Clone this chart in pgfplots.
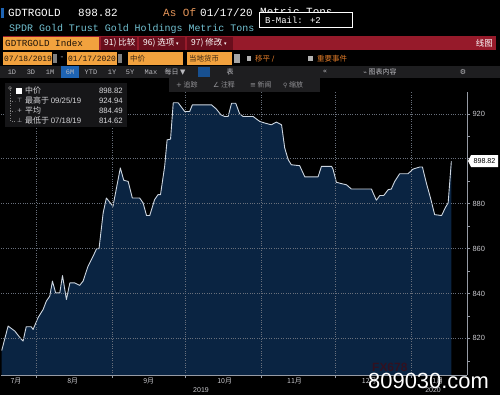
\documentclass[border=0pt]{standalone}
\usepackage{pgfplots}
\usepackage{pgfplotstable}
\pgfplotsset{compat=1.18}
\usepackage{fontspec}
\setmainfont{Liberation Sans}
\newfontfamily\cjk{Noto Sans CJK SC}
\newfontfamily\mono{Liberation Mono}
\newfontfamily\sym{DejaVu Sans}
\definecolor{navy}{RGB}{10,36,66}
\definecolor{lineclr}{RGB}{205,214,224}
\definecolor{gridclr}{RGB}{105,112,124}
\definecolor{axclr}{RGB}{150,155,165}
\definecolor{tickclr}{RGB}{200,200,205}
\definecolor{boxorange}{RGB}{242,162,62}
\definecolor{barred}{RGB}{150,26,42}
\definecolor{darkred}{RGB}{105,14,28}
\definecolor{asof}{RGB}{230,150,90}
\definecolor{teal}{RGB}{115,195,212}
\definecolor{txtorange}{RGB}{222,122,40}
\definecolor{hlblue}{RGB}{30,100,180}
\definecolor{rowgray}{RGB}{30,30,32}
\definecolor{legbg}{RGB}{22,22,24}
\definecolor{ltxt}{RGB}{215,215,218}
\definecolor{mtxt}{RGB}{185,185,190}

\pgfplotstableread{
day val
0 814.6
2.6 825.5
5.3 823.3
8 819.6
8.7 818.8
10 825.2
12 825.2
12.8 824.0
14.8 829.2
16.9 832.9
18.2 836.6
19.6 838.8
20.7 845.5
22 840.3
23.7 840.3
24.8 848.0
26.4 837.3
27.8 844.7
29.8 844.7
31.8 843.6
33.2 845.5
35.2 852.1
37.3 856.6
38.7 859.9
39.7 859.9
41.4 875.9
42.7 882.5
45.4 878.8
48.4 895.9
49.8 890.4
51.6 889.9
53.3 882.5
56.3 882.5
57.7 880.3
59.1 874.7
60.4 874.7
62.4 881.8
63.8 884.0
64.8 884.0
66.5 896.6
67.5 908.4
68.9 908.7
70 924.9
72 924.9
74.7 921.0
76.7 921.0
77.8 924.0
85.6 924.0
87.6 922.1
89.5 919.5
91 918.8
92.4 918.8
93.8 924.7
95.5 924.7
97.1 920.0
98.5 918.8
102.6 918.8
105.3 916.6
107.3 915.9
110 915.1
112.1 916.3
114.2 915.1
115.5 904.8
116.9 899.6
118.2 897.3
121.6 896.9
123.7 891.9
129.1 891.9
130.5 896.6
134.6 896.6
135.2 895.4
136.6 889.5
138.7 888.9
140.7 888.4
142.7 886.5
150.9 886.5
151.6 884.7
152.9 881.5
154.3 883.6
155.9 883.6
157.7 886.2
159 886.5
160.4 889.9
162.4 893.3
165.8 893.3
167.9 895.4
170.6 896.3
171.7 896.3
173.3 889.2
175 882.5
176.7 875.1
179.5 874.7
181.2 878.5
182.2 880.3
183.5 898.8
}\gld

\begin{document}
\begin{tikzpicture}[x=1bp,y=1bp]
\fill[black] (0,0) rectangle (500,395);
% ---------- row 1
\fill[hlblue] (1,387) rectangle (4,377);
\node[anchor=west,inner sep=0,text=white,font=\mono\fontsize{11}{12}\selectfont] at (8,382) {GDTRGOLD};
\node[anchor=west,inner sep=0,text=white,font=\mono\fontsize{11}{12}\selectfont] at (78,382) {898.82};
\node[anchor=west,inner sep=0,text=asof,font=\mono\fontsize{11}{12}\selectfont] at (163,382) {As Of};
\node[anchor=west,inner sep=0,text=white,font=\mono\fontsize{11}{12}\selectfont] at (200,382) {01/17/20};
\node[anchor=west,inner sep=0,text=white,font=\mono\fontsize{11}{12}\selectfont] at (260,383) {Metric Tons};
\fill[black] (259,382.5) rectangle (352,367.5);
\draw[white,line width=0.8bp] (259,382.5) rectangle (352,367.5);
\node[anchor=west,inner sep=0,text=white,font=\mono\fontsize{9}{10}\selectfont] at (265,375) {B-Mail: +2};
% ---------- row 2
\node[anchor=west,inner sep=0,text=teal,font=\mono\fontsize{10}{11}\selectfont] at (9,366) {SPDR Gold Trust Gold Holdings Metric Tons};
% ---------- row 3
\fill[barred] (3,359) rectangle (496,345);
\fill[boxorange] (3,358.5) rectangle (99,345.5);
\node[anchor=west,inner sep=0,text=black!85!brown,font=\mono\fontsize{9.3}{10}\selectfont] at (5,352) {GDTRGOLD Index};
\fill[darkred] (101,358.5) rectangle (137,345.5);
\fill[darkred] (139,358.5) rectangle (185,345.5);
\fill[darkred] (187,358.5) rectangle (233,345.5);
\node[anchor=west,inner sep=0,text=white,font=\cjk\fontsize{8.5}{9}\selectfont] at (104,352) {91) 比较};
\node[anchor=west,inner sep=0,text=white,font=\cjk\fontsize{8.5}{9}\selectfont] at (143,352) {96) 选项 {\sym\fontsize{5}{5}\selectfont ▾}};
\node[anchor=west,inner sep=0,text=white,font=\cjk\fontsize{8.5}{9}\selectfont] at (191,352) {97) 修改 {\sym\fontsize{5}{5}\selectfont ▾}};
\node[anchor=east,inner sep=0,text=white,font=\cjk\fontsize{8.5}{9}\selectfont] at (493,352) {线图};
% ---------- row 4
\fill[boxorange] (3,343) rectangle (52,330);
\node[anchor=west,inner sep=0,text=black!80!brown,font=\mono\fontsize{8}{9}\selectfont] at (4,336.5) {07/18/2019};
\fill[gray] (53,341) rectangle (57,332);
\node[inner sep=0,text=mtxt,font=\mono\fontsize{8}{9}\selectfont] at (62,336.5) {-};
\fill[boxorange] (67,343) rectangle (117,330);
\node[anchor=west,inner sep=0,text=black!80!brown,font=\mono\fontsize{8}{9}\selectfont] at (68,336.5) {01/17/2020};
\fill[gray] (118,341) rectangle (122,332);
\fill[boxorange] (128,343) rectangle (183,330);
\node[anchor=west,inner sep=0,text=black!70!brown,font=\cjk\fontsize{7.5}{8}\selectfont] at (130,336.5) {中价};
\fill[boxorange] (187,343) rectangle (232,330);
\node[anchor=west,inner sep=0,text=black!70!brown,font=\cjk\fontsize{7.5}{8}\selectfont] at (189,336.5) {当地货币};
\fill[gray!70] (234,341) rectangle (240,332);
\fill[gray!60] (247,339) rectangle (251,334);
\node[anchor=west,inner sep=0,text=txtorange,font=\cjk\fontsize{7.5}{8}\selectfont] at (255,336.5) {移平 \sym/};
\fill[gray!60] (308,339) rectangle (313,334);
\node[anchor=west,inner sep=0,text=txtorange,font=\cjk\fontsize{7.5}{8}\selectfont] at (317,336.5) {重要事件};
% ---------- row 5
\fill[rowgray] (0,329) rectangle (500,317);
\fill[hlblue] (61,329) rectangle (79,317);
\fill[hlblue!80!black] (198,328) rectangle (210,318);
\foreach \xx/\tt in {12/1D,31/3D,50/1M,70/6M,91/YTD,112/1Y,130/5Y,151/Max}{
  \node[inner sep=0,text=mtxt,font=\mono\fontsize{7}{8}\selectfont] at (\xx,323) {\tt};}
\node[inner sep=0,text=mtxt,font=\cjk\fontsize{7}{8}\selectfont] at (175,323) {每日 \sym▼};
\node[inner sep=0,text=mtxt,font=\cjk\fontsize{7}{8}\selectfont] at (230,323) {表};
\node[inner sep=0,text=mtxt,font=\sym\fontsize{7}{8}\selectfont] at (325,323) {«};
\node[inner sep=0,text=mtxt,font=\cjk\fontsize{7}{8}\selectfont] at (380,323) {{\sym\fontsize{6}{6}\selectfont ⌁} 图表内容};
\node[inner sep=0,text=mtxt,font=\sym\fontsize{7}{8}\selectfont] at (463,323) {⚙};
% ---------- axis
\begin{axis}[
  at={(1bp,20bp)}, anchor=south west, scale only axis,
  width=466bp, height=283bp,
  xmin=-0.3, xmax=189.9, ymin=803.7, ymax=929.7,
  axis on top,
  axis x line*=bottom, axis y line*=right,
  axis line style={draw=axclr,-,line width=0.6bp},
  tick align=outside,
  tick style={draw=axclr,line width=0.5bp},
  major tick length=3bp, minor tick length=3bp,
  ytick={820,840,860,880,900,920},
  yticklabels={820,840,860,880,,920},
  minor ytick={810,830,850,870,890,910,930},
  /pgf/number format/assume math mode=true,
  yticklabel style={font=\fontsize{7.5}{8}\selectfont,text=tickclr,xshift=-1bp},
  xtick={14,45,75,106,136,167},
  xticklabels={},
  extra x ticks={5.8,29,60,91,119.5,150,178},
  extra x tick labels={7月,8月,9月,10月,11月,12月,1月},
  extra x tick style={grid=none,major tick length=0bp,
    xticklabel style={font=\cjk\fontsize{7}{8}\selectfont,text=tickclr,yshift=1bp}},
  xmajorgrids, ymajorgrids,
  grid style={draw=gridclr,dotted,line width=0.5bp},
  clip=true,
]
\addplot[draw=none,fill=navy] table[x=day,y=val] {\gld} \closedcycle;
\addplot[draw=lineclr,line width=0.9bp,line join=round] table[x=day,y=val] {\gld};
\end{axis}
% ---------- price tag
\fill[white] (468,234) -- (471,240) -- (498,240) -- (498,228) -- (471,228) -- cycle;
\node[inner sep=0,text=black,font=\fontsize{7.2}{8}\selectfont] at (484.5,234) {898.82};
% ---------- toolbar row 6
\fill[rowgray] (169,317) rectangle (320,303);
\node[anchor=west,inner sep=0,text=mtxt!80!black,font=\cjk\fontsize{7}{8}\selectfont] at (176,310) {{\sym+} 追踪};
\node[anchor=west,inner sep=0,text=mtxt!80!black,font=\cjk\fontsize{7}{8}\selectfont] at (213,310) {{\sym∠} 注释};
\node[anchor=west,inner sep=0,text=mtxt!80!black,font=\cjk\fontsize{7}{8}\selectfont] at (250,310) {{\sym≡} 新闻};
\node[anchor=west,inner sep=0,text=mtxt!80!black,font=\cjk\fontsize{7}{8}\selectfont] at (283,310) {{\sym\fontsize{6}{6}\selectfont⚲} 缩放};
% ---------- legend box
\fill[legbg] (5,312) rectangle (127,268);
\draw[gray,dotted,line width=0.5bp] (10,307) -- (10,274) -- (15,274);
\draw[gray,dotted,line width=0.5bp] (10,294) -- (15,294);
\draw[gray,dotted,line width=0.5bp] (10,284) -- (15,284);
\draw[gray,line width=0.5bp] (10,307) circle (1.5);
\fill[white] (16,307.5) rectangle (22,301.5);
\node[anchor=west,inner sep=0,text=ltxt,font=\cjk\fontsize{8}{9}\selectfont] at (25,304.5) {中价};
\node[anchor=east,inner sep=0,text=ltxt,font=\fontsize{7.8}{9}\selectfont] at (123,304.5) {898.82};
\node[anchor=west,inner sep=0,text=mtxt,font=\sym\fontsize{6}{7}\selectfont] at (17,294.5) {⊤};
\node[anchor=west,inner sep=0,text=ltxt,font=\cjk\fontsize{8}{9}\selectfont] at (25,294.5) {最高于 {\rmfamily\fontsize{7.8}{9}\selectfont 09/25/19}};
\node[anchor=east,inner sep=0,text=ltxt,font=\fontsize{7.8}{9}\selectfont] at (123,294.5) {924.94};
\node[anchor=west,inner sep=0,text=mtxt,font=\sym\fontsize{6}{7}\selectfont] at (17,284.5) {+};
\node[anchor=west,inner sep=0,text=ltxt,font=\cjk\fontsize{8}{9}\selectfont] at (25,284.5) {平均};
\node[anchor=east,inner sep=0,text=ltxt,font=\fontsize{7.8}{9}\selectfont] at (123,284.5) {884.49};
\node[anchor=west,inner sep=0,text=mtxt,font=\sym\fontsize{6}{7}\selectfont] at (17,274.5) {⊥};
\node[anchor=west,inner sep=0,text=ltxt,font=\cjk\fontsize{8}{9}\selectfont] at (25,274.5) {最低于 {\rmfamily\fontsize{7.8}{9}\selectfont 07/18/19}};
\node[anchor=east,inner sep=0,text=ltxt,font=\fontsize{7.8}{9}\selectfont] at (123,274.5) {814.62};
% ---------- year labels
\node[inner sep=0,text=tickclr,font=\fontsize{7}{8}\selectfont] at (201,5) {2019};
\node[inner sep=0,text=tickclr,font=\fontsize{7}{8}\selectfont] at (433,5) {2020};
% ---------- watermark
\node[anchor=west,inner sep=0,text=red!35!black,font=\bfseries\fontsize{12}{12}\selectfont,opacity=0.5] at (372,28) {FX678};
\node[anchor=west,inner sep=0,text=white,font=\fontsize{22}{22}\selectfont] at (368,14) {809030.com};
\end{tikzpicture}
\end{document}
